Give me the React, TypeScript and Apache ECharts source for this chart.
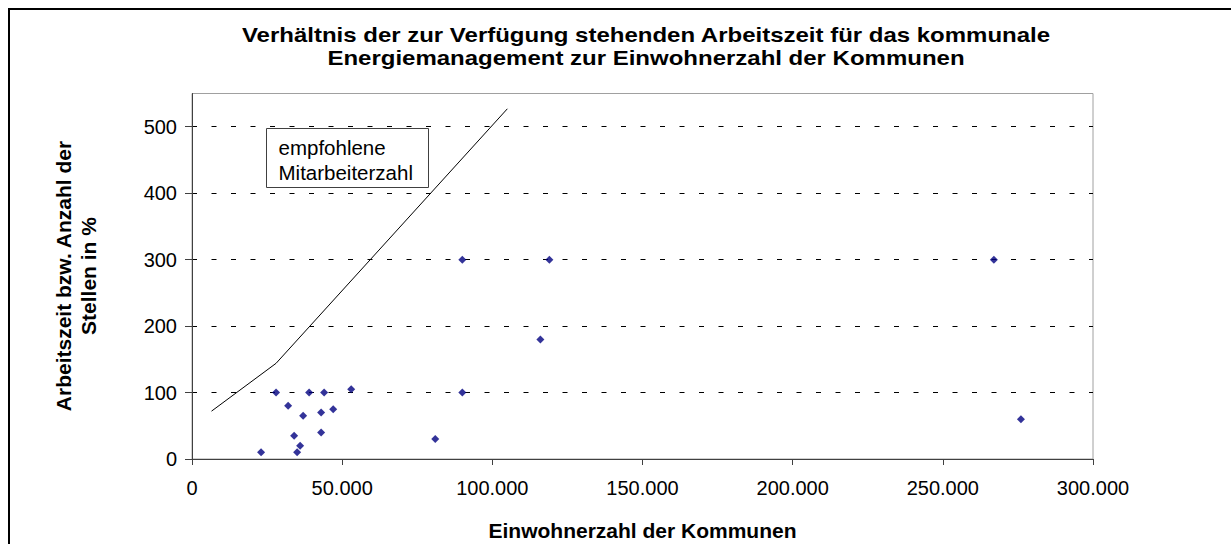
import React, { useEffect, useRef } from "react";
import * as echarts from "echarts";

// ---- data ----
const titleLines = [
  "Verhältnis der zur Verfügung stehenden Arbeitszeit für das kommunale",
  "Energiemanagement zur Einwohnerzahl der Kommunen",
];
const xAxisName = "Einwohnerzahl der Kommunen";
const yAxisNameLines = ["Arbeitszeit bzw. Anzahl der", "Stellen in %"];
const legendLines = ["empfohlene", "Mitarbeiterzahl"];

// Kommunen: Einwohnerzahl und Arbeitszeit in %
const einwohner = [
  23000, 28000, 32000, 34000, 35000, 36000, 37000, 39000, 43000, 43000,
  44000, 47000, 53000, 81000, 90000, 90000, 116000, 119000, 267000, 276000,
];
const arbeitszeit = [
  10, 100, 80, 35, 10, 20, 65, 100, 70, 40,
  100, 75, 105, 30, 100, 300, 180, 300, 300, 60,
];

// empfohlene Mitarbeiterzahl (Linie)
const empfohlenX = [6500, 28000, 105000];
const empfohlenY = [72, 144, 527];

const xTicks = [0, 50000, 100000, 150000, 200000, 250000, 300000];
const yTicks = [0, 100, 200, 300, 400, 500];

const FONT = "'Liberation Sans', Arial, sans-serif";

function fmtThousands(v: number): string {
  return String(Math.round(v)).replace(/\B(?=(\d{3})+(?!\d))/g, ".");
}

export default function App() {
  const ref = useRef<HTMLDivElement>(null);

  useEffect(() => {
    if (!ref.current) return;
    const chart = echarts.init(ref.current, null, { renderer: "svg" });

    const gridLeft = 184;
    const gridTop = 85.5;
    const gridWidth = 901;
    const gridHeight = 365.5;

    const titleText = (text: string, y: number) => ({
      type: "text" as const,
      x: 638,
      y,
      scaleX: 1.2,
      style: {
        text,
        fill: "#000",
        font: `bold 20px ${FONT}`,
        align: "center" as const,
        verticalAlign: "middle" as const,
      },
    });

    const option: echarts.EChartsOption = {
      animation: false,
      backgroundColor: "#ffffff",
      textStyle: { fontFamily: FONT },
      grid: {
        left: gridLeft,
        top: gridTop,
        width: gridWidth,
        height: gridHeight,
        show: true,
        borderColor: "#a0a0a0",
        borderWidth: 1,
        backgroundColor: "transparent",
      },
      xAxis: {
        type: "value",
        min: 0,
        max: 300000,
        interval: 50000,
        axisLine: { show: true, lineStyle: { color: "#404040", width: 1 } },
        axisTick: { show: true, inside: false, length: 6, lineStyle: { color: "#404040" } },
        axisLabel: {
          margin: 19,
          fontSize: 20,
          color: "#000",
          fontFamily: FONT,
          customValues: xTicks,
          formatter: (v: number) => fmtThousands(v),
        },
        splitLine: { show: false },
      },
      yAxis: {
        type: "value",
        min: 0,
        max: 550,
        interval: 100,
        axisLine: { show: true, lineStyle: { color: "#404040", width: 1 } },
        axisTick: { show: true, inside: false, length: 7, lineStyle: { color: "#404040" }, customValues: yTicks },
        axisLabel: {
          margin: 15,
          fontSize: 20,
          color: "#000",
          fontFamily: FONT,
          customValues: yTicks,
          formatter: (v: number) => String(v),
        },
        splitLine: {
          show: true,
          showMinLine: false,
          lineStyle: { color: "#000", width: 1, type: [5, 14.5] },
        },
      },
      series: [
        {
          type: "line",
          data: empfohlenX.map((x, i) => [x, empfohlenY[i]]),
          symbol: "none",
          lineStyle: { color: "#000", width: 1 },
          silent: true,
          z: 3,
        },
        {
          type: "scatter",
          data: einwohner.map((x, i) => [x, arbeitszeit[i]]),
          symbol: "diamond",
          symbolSize: 8,
          itemStyle: { color: "#000080" },
          z: 4,
        },
      ],
      graphic: [
        // outer frame (top and left edges visible)
        { type: "line", shape: { x1: 0, y1: 1, x2: 1223, y2: 1 }, style: { stroke: "#000", lineWidth: 2 }, z: 10 },
        { type: "line", shape: { x1: 1, y1: 0, x2: 1, y2: 536 }, style: { stroke: "#000", lineWidth: 2 }, z: 10 },
        // title
        titleText(titleLines[0], 27),
        titleText(titleLines[1], 50.5),
        // x axis name
        {
          type: "text",
          x: 634.5,
          y: 522,
          style: {
            text: xAxisName,
            fill: "#000",
            font: `bold 21px ${FONT}`,
            align: "center",
            verticalAlign: "middle",
          },
        },
        // y axis name (rotated)
        {
          type: "text",
          x: 55.5,
          y: 268,
          rotation: Math.PI / 2,
          style: {
            text: yAxisNameLines[0],
            fill: "#000",
            font: `bold 21px ${FONT}`,
            align: "center",
            verticalAlign: "middle",
          },
        },
        {
          type: "text",
          x: 80.5,
          y: 268,
          rotation: Math.PI / 2,
          style: {
            text: yAxisNameLines[1],
            fill: "#000",
            font: `bold 21px ${FONT}`,
            align: "center",
            verticalAlign: "middle",
          },
        },
        // legend box
        {
          type: "rect",
          shape: { x: 258.5, y: 120.5, width: 162, height: 59 },
          style: { fill: "#fff", stroke: "#404040", lineWidth: 1 },
          z: 5,
        },
        {
          type: "text",
          x: 270.5,
          y: 139,
          style: {
            text: legendLines[0],
            fill: "#000",
            font: `20.5px ${FONT}`,
            align: "left",
            verticalAlign: "middle",
          },
          z: 6,
        },
        {
          type: "text",
          x: 270.5,
          y: 164,
          style: {
            text: legendLines[1],
            fill: "#000",
            font: `20.5px ${FONT}`,
            align: "left",
            verticalAlign: "middle",
          },
          z: 6,
        },
      ],
    };

    chart.setOption(option);
    return () => {
      chart.dispose();
    };
  }, []);

  return (
    <div
      ref={ref}
      style={{ position: "fixed", left: 8, top: 8, width: 1223, height: 536, background: "#fff" }}
    />
  );
}
